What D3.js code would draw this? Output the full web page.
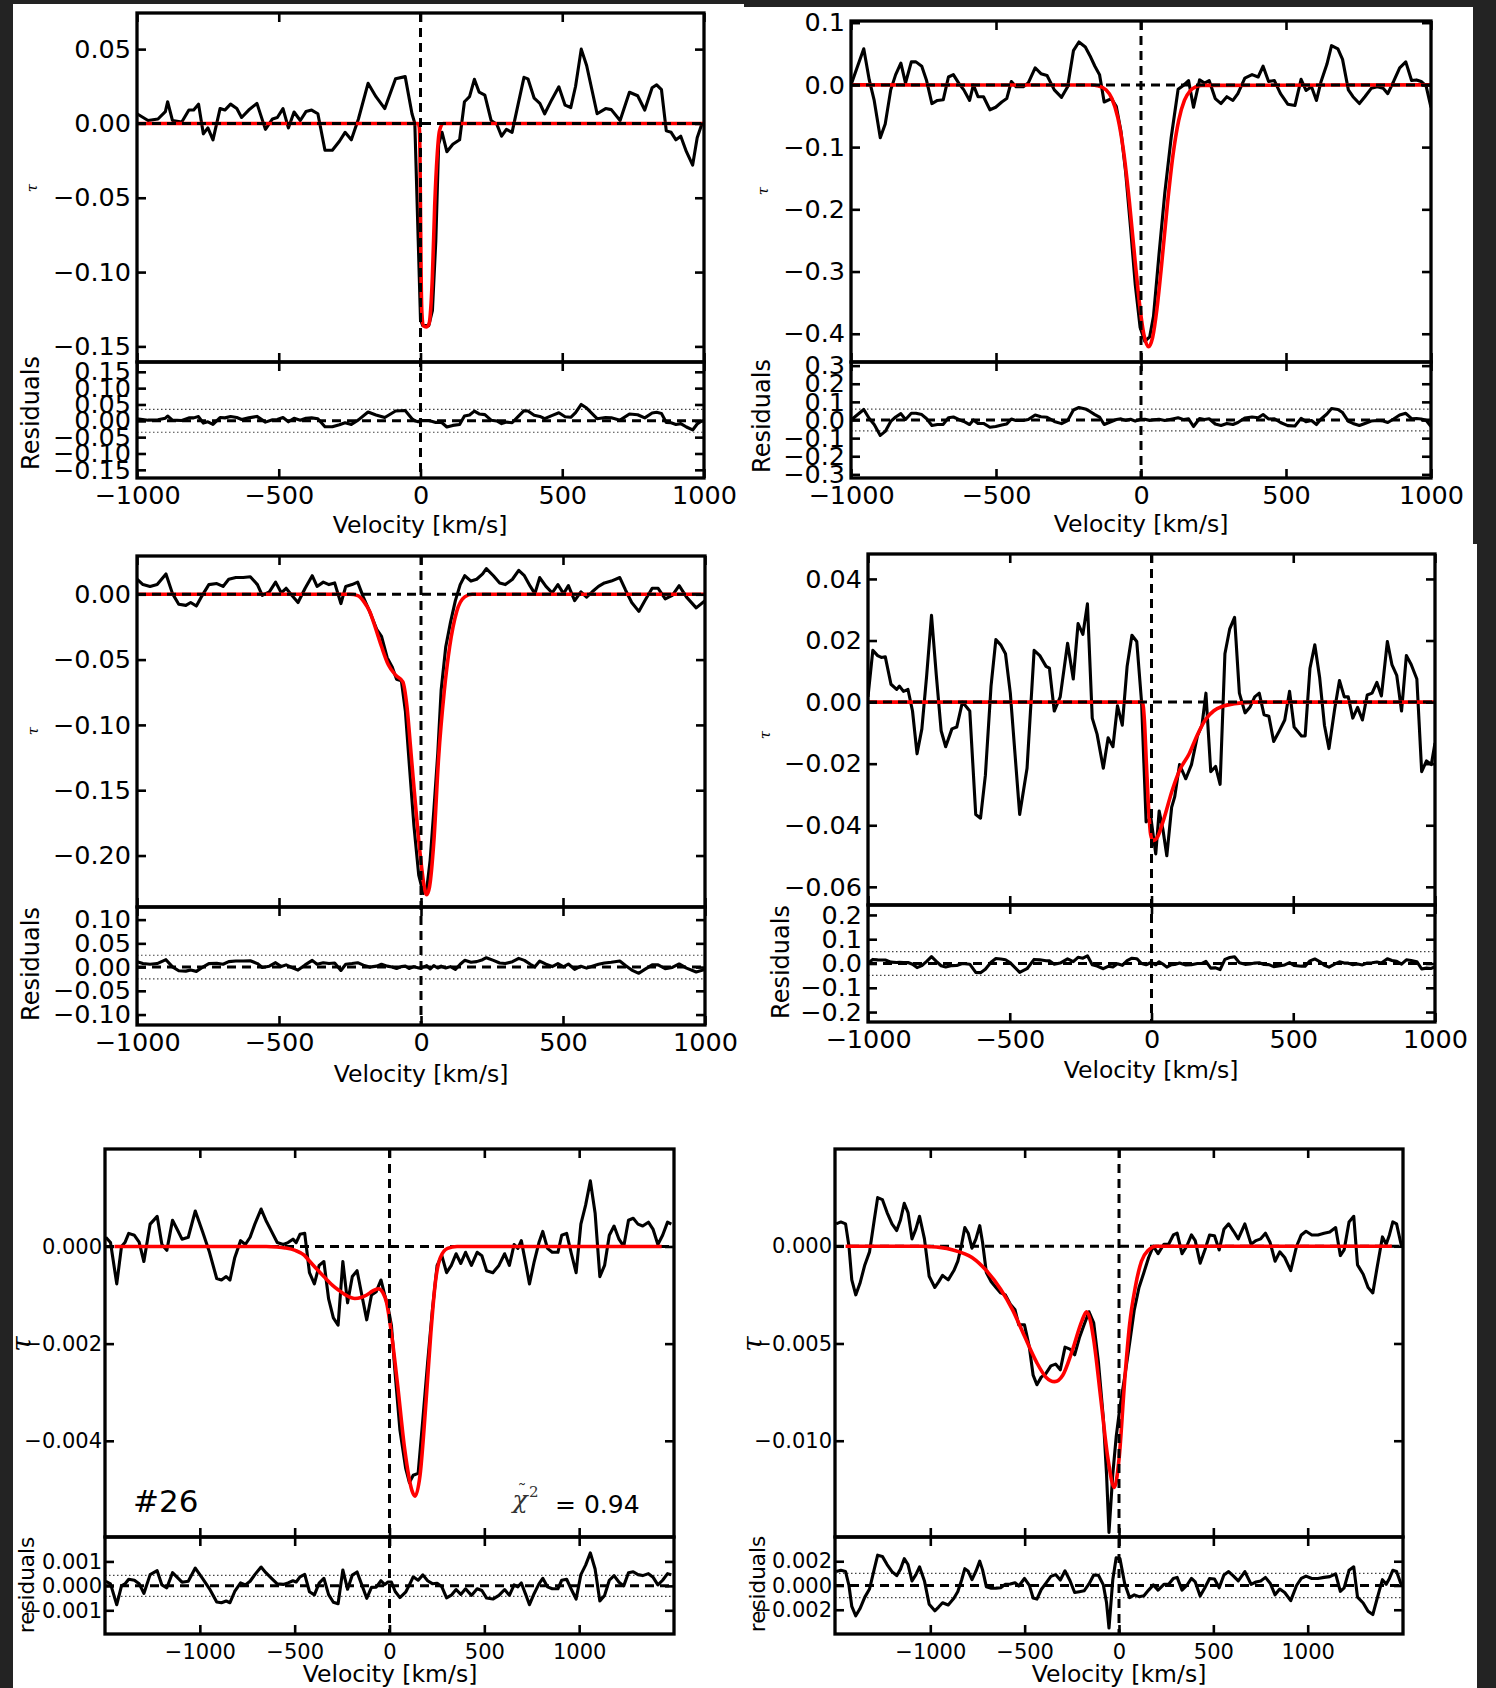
<!DOCTYPE html>
<html>
<head>
<meta charset="utf-8">
<script src="https://cdn.jsdelivr.net/npm/d3@7"></script>
<style>
  html, body { margin: 0; padding: 0; background: #232323; }
  svg { display: block; }
</style>
</head>
<body>
<div id="chart"></div>
<script>
// ---- panel 1 (top left) ----
const p1Vel = [-1000,-961,-926,-900,-892,-875,-842,-817,-800,-783,
  -766,-750,-732,-707,-690,-670,-648,-631,-606,-577,
  -547,-522,-505,-485,-466,-446,-424,-404,-384,-362,
  -337,-311,-286,-266,-244,-219,-185,-157,-126,-88,
  -54,-30,-20,-8,0,8,29,42,54,64,
  76,93,114,138,155,173,190,207,227,249,
  269,286,303,323,345,365,379,401,421,438,
  463,488,510,530,547,567,586,623,653,673,
  704,737,766,791,817,833,850,867,884,901,
  918,938,960,976,993,1000];
const p1Tau = [0.0065,0.002,0.003,0.008,0.0146,0.002,0.001,0.009,0.009,0.013,
  -0.007,-0.003,-0.011,0.010,0.009,0.013,0.010,0.004,0.009,0.0135,
  -0.004,0.003,0.004,0.010,-0.003,0.0077,0.002,0.008,0.009,0.0065,
  -0.018,-0.018,-0.012,-0.006,-0.011,0.003,0.027,0.018,0.010,0.030,
  0.0315,0.0065,0.0,-0.079,-0.132,-0.136,-0.136,-0.126,-0.079,-0.014,
  -0.006,-0.019,-0.014,-0.011,0.0146,0.018,0.0297,0.021,0.019,0.002,
  -0.0005,-0.0086,-0.004,-0.006,0.0135,0.031,0.030,0.017,0.0135,0.0065,
  0.016,0.0246,0.0123,0.0107,0.025,0.050,0.039,0.0065,0.010,0.0093,
  0.002,0.021,0.0186,0.009,0.024,0.026,0.0227,-0.005,-0.006,-0.011,
  -0.0086,-0.019,-0.028,-0.0097,0.0,0.0];
const p1Res = [0.0065,0.002,0.003,0.008,0.0146,0.002,0.001,0.009,0.009,0.013,
  -0.007,-0.003,-0.011,0.010,0.009,0.013,0.010,0.004,0.009,0.0135,
  -0.004,0.003,0.004,0.010,-0.003,0.0077,0.002,0.008,0.009,0.0065,
  -0.018,-0.018,-0.012,-0.006,-0.011,0.003,0.027,0.018,0.010,0.030,
  0.0315,0.0065,0.0,-0.003,0.002,0.001,0.001,-0.002,-0.005,-0.004,
  -0.006,-0.019,-0.014,-0.011,0.0146,0.018,0.0297,0.021,0.019,0.002,
  -0.0005,-0.0086,-0.004,-0.006,0.0135,0.031,0.030,0.017,0.0135,0.0065,
  0.016,0.0246,0.0123,0.0107,0.025,0.050,0.039,0.0065,0.010,0.0093,
  0.002,0.021,0.0186,0.009,0.024,0.026,0.0227,-0.005,-0.006,-0.011,
  -0.0086,-0.019,-0.028,-0.0097,0.0,0.0];
const p1FitVel = [-1000,-8,-4,-2,0,2,5,10,20,30,36,42,50,59,67,80,1000];
const p1FitTau = [0,0,-0.003,-0.02,-0.06,-0.1,-0.128,-0.136,-0.137,-0.135,-0.125,-0.103,-0.056,-0.021,-0.005,0,0];

// ---- panel 2 (top right) ----
const p2Vel = [-1000,-981,-956,-937,-920,-899,-882,-863,-846,-828,
  -812,-792,-776,-756,-740,-721,-702,-682,-664,-647,
  -627,-611,-591,-578,-562,-543,-521,-501,-480,-463,
  -447,-431,-406,-389,-365,-345,-324,-299,-274,-253,
  -233,-214,-192,-176,-159,-143,-127,-102,-85,-69,
  -53,-36,-20,-3,13,30,43,62,82,104,
  128,148,164,181,202,219,235,256,276,296,
  317,334,358,383,404,421,440,460,481,506,
  531,552,569,588,605,621,641,657,679,695,
  715,731,753,772,794,815,835,851,871,892,
  913,933,950,966,983,1000];
const p2Tau = [0.0,0.025,0.058,0.008,-0.025,-0.085,-0.063,-0.008,0.0165,0.035,
  0.003,0.037,0.037,0.030,0.008,-0.030,-0.025,-0.024,0.0127,0.0165,
  0.0017,-0.008,-0.025,0.0,-0.019,-0.019,-0.040,-0.036,-0.0275,-0.022,
  0.0055,-0.003,-0.003,0.003,0.0275,0.018,0.015,-0.008,-0.020,-0.003,
  0.055,0.069,0.061,0.047,0.030,0.0165,-0.0275,-0.022,-0.035,-0.075,
  -0.14,-0.23,-0.32,-0.39,-0.412,-0.405,-0.372,-0.273,-0.174,-0.085,
  -0.007,0.0,0.007,-0.036,0.008,0.003,0.007,-0.022,-0.030,-0.019,
  -0.025,-0.014,0.011,0.0165,0.0127,0.030,0.0055,0.007,-0.014,-0.031,
  -0.033,0.009,-0.009,-0.003,-0.025,0.0055,0.033,0.063,0.058,0.041,
  -0.008,-0.019,-0.030,-0.019,-0.0055,-0.003,-0.0055,-0.014,0.0055,0.0275,
  0.037,0.007,0.008,0.0055,-0.0017,-0.036];
const p2Res = [0.0,0.025,0.058,0.008,-0.025,-0.085,-0.063,-0.008,0.0165,0.035,
  0.003,0.037,0.037,0.030,0.008,-0.030,-0.025,-0.024,0.0127,0.0165,
  0.0017,-0.008,-0.025,0.0,-0.019,-0.019,-0.040,-0.036,-0.0275,-0.022,
  0.0055,-0.003,-0.003,0.003,0.0275,0.018,0.015,-0.008,-0.020,-0.003,
  0.055,0.069,0.061,0.047,0.030,0.0165,-0.025,-0.008,0.003,0.006,
  -0.002,0.004,-0.006,0.003,0.004,-0.002,0.001,0.004,-0.003,0.004,
  0.012,0.002,0.007,-0.036,0.008,0.003,0.007,-0.022,-0.030,-0.019,
  -0.025,-0.014,0.011,0.0165,0.0127,0.030,0.0055,0.007,-0.014,-0.031,
  -0.033,0.009,-0.009,-0.003,-0.025,0.0055,0.033,0.063,0.058,0.041,
  -0.008,-0.019,-0.030,-0.019,-0.0055,-0.003,-0.0055,-0.014,0.0055,0.0275,
  0.037,0.007,0.008,0.0055,-0.0017,-0.036];
const p2FitVel = [-1000,-170,-150,-120,-100,-80,-60,-40,-20,0,10,26,40,55,70,90,110,130,150,170,190,210,1000];
const p2FitTau = [0,-0.0002,-0.0014,-0.0082,-0.0223,-0.0527,-0.107,-0.188,-0.285,-0.3715,-0.4015,-0.421,-0.406,-0.360,-0.294,-0.197,-0.114,-0.057,-0.0245,-0.0091,-0.0029,-0.0008,0];

// ---- panel 3 (middle left) ----
const p3Vel = [-1000,-979,-954,-929,-898,-875,-853,-828,-811,-791,
  -774,-747,-719,-697,-677,-652,-626,-601,-576,-559,
  -534,-512,-492,-475,-455,-433,-408,-383,-366,-344,
  -324,-304,-282,-265,-243,-223,-203,-181,-156,-139,
  -119,-102,-86,-69,-55,-42,-25,-8,8,20,
  32,45,59,71,87,104,121,138,154,176,
  196,217,230,255,277,297,322,344,364,385,
  401,418,440,462,482,502,519,541,563,583,
  603,625,646,670,700,720,742,767,788,814,
  835,860,885,909,935,969,1000];
const p3Tau = [0.0115,0.0074,0.006,0.0074,0.0156,0.0005,-0.0076,-0.0085,-0.0063,-0.009,
  -0.0022,0.0074,0.0082,0.006,0.0115,0.0128,0.0128,0.0134,0.0074,-0.0008,
  0.0019,0.0093,0.0011,0.0046,-0.0008,-0.0063,0.0046,0.0142,0.006,0.0093,
  0.0074,0.0087,-0.0071,0.006,0.0074,0.0093,-0.0022,-0.0131,-0.0268,-0.0322,
  -0.0486,-0.0554,-0.065,-0.0663,-0.0895,-0.128,-0.177,-0.215,-0.229,-0.226,
  -0.204,-0.166,-0.122,-0.0732,-0.0404,-0.0213,-0.0049,0.0074,0.0142,0.0101,
  0.0115,0.0156,0.0197,0.0142,0.0087,0.0074,0.0115,0.0183,0.0142,0.006,
  0.0005,0.0128,0.006,0.0011,0.0074,0.0005,0.0066,-0.0049,0.0019,-0.0022,
  0.0019,0.006,0.0087,0.0101,0.0128,0.0033,-0.0063,-0.0131,-0.0049,0.0046,
  0.0046,-0.0035,-0.0008,0.0066,-0.0022,-0.0104,-0.0049];
const p3Res = [0.0115,0.0074,0.006,0.0074,0.0156,0.0005,-0.0076,-0.0085,-0.0063,-0.009,
  -0.0022,0.0074,0.0082,0.006,0.0115,0.0128,0.0128,0.0134,0.0074,-0.0008,
  0.0019,0.0093,0.0011,0.0046,-0.0008,-0.0063,0.0046,0.0142,0.006,0.0093,
  0.0074,0.0087,-0.0071,0.006,0.0074,0.0093,0.004,0.0,0.002,0.006,
  0.002,0.0,-0.003,0.001,0.002,-0.003,0.001,-0.002,0.0,0.003,
  -0.004,0.003,-0.002,0.002,-0.002,0.001,-0.005,0.006,0.0142,0.0101,
  0.0115,0.0156,0.0197,0.0142,0.0087,0.0074,0.0115,0.0183,0.0142,0.006,
  0.0005,0.0128,0.006,0.0011,0.0074,0.0005,0.0066,-0.0049,0.0019,-0.0022,
  0.0019,0.006,0.0087,0.0101,0.0128,0.0033,-0.0063,-0.0131,-0.0049,0.0046,
  0.0046,-0.0035,-0.0008,0.0066,-0.0022,-0.0104,-0.0049];
const p3FitVel = [-1000,-250,-223,-200,-181,-160,-139,-115,-89,-64,-50,-35,-13,0,10,20,30,45,62,82,101,126,154,180,1000];
const p3FitTau = [0,0,-0.001,-0.006,-0.013,-0.026,-0.040,-0.054,-0.062,-0.067,-0.085,-0.122,-0.177,-0.205,-0.222,-0.230,-0.224,-0.190,-0.125,-0.074,-0.040,-0.013,-0.002,0,0];

// ---- panel 4 (middle right) ----
const p4Vel = [-1000,-983,-966,-953,-939,-919,-899,-889,-875,-859,
  -843,-827,-810,-793,-776,-759,-742,-726,-704,-687,
  -667,-641,-620,-603,-586,-566,-549,-532,-515,-498,
  -465,-439,-414,-394,-372,-360,-343,-322,-296,-276,
  -259,-242,-226,-209,-192,-170,-153,-136,-120,-103,
  -86,-69,-52,-35,-19,-2,15,27,40,54,
  71,82,99,121,141,162,178,192,209,226,
  242,259,276,293,310,330,347,364,380,397,
  414,431,448,470,487,503,529,542,559,576,
  593,610,626,646,663,680,694,710,727,744,
  761,778,795,811,832,848,865,882,899,916,
  936,953,970,987,1000];
const p4Tau = [0.0017,0.0168,0.0151,0.0145,0.0147,0.0058,0.0041,0.0052,0.0035,0.0041,
  -0.0029,-0.0168,-0.0087,0.0087,0.0282,0.0087,-0.0093,-0.0145,-0.0087,-0.0081,
  0.0,-0.0029,-0.0365,-0.0377,-0.0238,0.0052,0.0203,0.0186,0.0157,0.0029,
  -0.0365,-0.0215,0.0168,0.0151,0.0116,0.011,-0.0029,0.0017,0.0191,0.0075,
  0.0255,0.022,0.0319,-0.0052,-0.0104,-0.0215,-0.0116,-0.0145,-0.0012,-0.0075,
  0.0116,0.0217,0.0197,0.0,-0.0389,-0.0377,-0.0493,-0.0354,-0.0412,-0.0499,
  -0.0342,-0.0307,-0.0203,-0.0249,-0.0203,-0.011,-0.0075,0.0029,-0.0226,-0.0209,
  -0.0267,0.0157,0.0238,0.0275,0.0029,-0.0035,-0.0017,0.0017,0.0029,-0.0041,
  -0.0046,-0.0128,-0.0099,-0.0058,0.0035,-0.0081,-0.011,-0.011,0.011,0.0186,
  0.0081,-0.0075,-0.0151,-0.0023,0.007,0.0017,0.0017,-0.0052,-0.0017,-0.0058,
  0.0023,0.0029,0.0064,0.002,0.0197,0.0122,0.0087,-0.0029,0.0151,0.0122,
  0.0075,-0.0226,-0.0191,-0.0203,-0.0133];
const p4Res = [0.0017,0.0168,0.0151,0.0145,0.0147,0.0058,0.0041,0.0052,0.0035,0.0041,
  -0.0029,-0.0168,-0.0087,0.0087,0.0282,0.0087,-0.0093,-0.0145,-0.0087,-0.0081,
  0.0,-0.0029,-0.0365,-0.0377,-0.0238,0.0052,0.0203,0.0186,0.0157,0.0029,
  -0.0365,-0.0215,0.0168,0.0151,0.0116,0.011,-0.0029,0.0017,0.0191,0.0075,
  0.0255,0.022,0.0319,-0.0052,-0.0104,-0.0215,-0.0116,-0.0145,-0.0012,-0.0075,
  0.0116,0.0217,0.0197,0.0,-0.005,0.004,-0.005,0.007,-0.002,-0.015,
  -0.005,-0.004,0.002,-0.006,-0.005,0.0,0.0005,0.0084,-0.019,-0.018,
  -0.025,0.017,0.0246,0.028,0.0029,-0.0035,-0.0017,0.0017,0.0029,-0.0041,
  -0.0046,-0.0128,-0.0099,-0.0058,0.0035,-0.0081,-0.011,-0.011,0.011,0.0186,
  0.0081,-0.0075,-0.0151,-0.0023,0.007,0.0017,0.0017,-0.0052,-0.0017,-0.0058,
  0.0023,0.0029,0.0064,0.002,0.0197,0.0122,0.0087,-0.0029,0.0151,0.0122,
  0.0075,-0.0226,-0.0191,-0.0203,-0.0133];
const p4FitVel = [-1000,-32,-25,-18,-10,-3,5,20,40,74,100,133,160,192,220,250,293,360,1000];
const p4FitTau = [0,0,-0.006,-0.02,-0.035,-0.043,-0.045,-0.044,-0.039,-0.0284,-0.022,-0.0168,-0.011,-0.0055,-0.0028,-0.0014,-0.0005,0,0];

// ---- panel 5 (#26, bottom left) ----
const p5Vel = [-1496,-1471,-1438,-1413,-1395,-1375,-1345,-1320,-1295,-1262,
  -1225,-1200,-1174,-1144,-1119,-1094,-1061,-1024,-986,-949,
  -911,-886,-861,-841,-816,-785,-760,-735,-710,-677,
  -652,-622,-592,-560,-535,-509,-492,-472,-447,-422,
  -396,-371,-346,-321,-296,-271,-246,-221,-196,-171,
  -146,-120,-95,-70,-45,-25,-8,10,30,55,
  85,105,125,151,176,201,226,251,276,301,
  326,351,376,401,432,462,487,512,545,577,
  607,632,657,677,695,720,738,763,788,808,
  833,858,888,908,934,959,984,1009,1034,1059,
  1084,1109,1134,1159,1184,1210,1235,1260,1285,1310,
  1335,1365,1390,1415,1440,1466,1486];
const p5Tau = [0.00019,0.00008,-0.00077,0,0.00008,0.00027,0.00023,0.00009,-0.00031,0.00046,
  0.00062,0.00004,-0.00008,0.00054,0.00035,0.00015,0.00019,0.00073,0.00031,-0.00012,
  -0.00066,-0.00069,-0.00062,-0.00069,-0.00023,0.00012,0.00004,0.00019,0.00046,0.00077,
  0.00054,0.00031,0.00008,0.00004,0.00008,0.00015,0.00008,0.00025,0.00027,-0.00054,
  -0.00077,-0.00039,-0.00031,-0.00108,-0.00147,-0.00162,-0.00031,-0.00116,-0.00062,-0.0005,
  -0.001,-0.00151,-0.001,-0.00093,-0.00069,-0.001,-0.00124,-0.00162,-0.00263,-0.00378,
  -0.00456,-0.00486,-0.00471,-0.00467,-0.00355,-0.00239,-0.00131,-0.00039,-0.00019,-0.00054,
  -0.00039,-0.00015,-0.00035,-0.00012,-0.00039,-0.00012,-0.00019,-0.0005,-0.00054,-0.00039,
  -0.00015,-0.00039,0.00004,-0.00004,0.00012,-0.00039,-0.00077,-0.00031,0.00008,0.00031,
  -0.00004,-0.00012,-0.00012,0.00023,0.00027,-0.00015,-0.00054,0.00046,0.00085,0.00135,
  0.00069,-0.00062,-0.00039,0.00023,0.00042,0.00015,0,0.00054,0.00058,0.00046,
  0.00042,0.0005,0.00035,0.00004,0.00023,0.0005,0.00046];
const p5Res = [0.00019,0.00008,-0.00077,0,0.00008,0.00027,0.00023,0.00009,-0.00031,0.00046,
  0.00062,0.00004,-0.00008,0.00054,0.00035,0.00015,0.00019,0.00073,0.00031,-0.00012,
  -0.00066,-0.00069,-0.00062,-0.00069,-0.00023,0.00012,0.00004,0.00019,0.00046,0.00077,
  0.00054,0.00031,0.00008,0.00006,0.00012,0.00021,0.00016,0.00037,0.00047,-0.00024,
  -0.00037,0.00011,0.00031,-0.00036,-0.00067,-0.00073,0.00065,-0.00014,0.00044,0.00057,
  0.00004,-0.00051,-0.00006,-0.00005,0.00021,0.00005,0.00016,0.00016,-0.00023,-0.00048,
  -0.00026,0.00004,0.00037,0.00023,0.00045,0.00021,0.00009,0.00011,-0.00004,-0.00049,
  -0.00038,-0.00015,-0.00035,-0.00012,-0.00039,-0.00012,-0.00019,-0.0005,-0.00054,-0.00039,
  -0.00015,-0.00039,0.00004,-0.00004,0.00012,-0.00039,-0.00077,-0.00031,0.00008,0.00031,
  -0.00004,-0.00012,-0.00012,0.00023,0.00027,-0.00015,-0.00054,0.00046,0.00085,0.00135,
  0.00069,-0.00062,-0.00039,0.00023,0.00042,0.00015,0,0.00054,0.00058,0.00046,
  0.00042,0.0005,0.00035,0.00004,0.00023,0.0005,0.00046];
const p5FitVel = [-1450,-650,-597,-550,-497,-450,-422,-380,-346,-300,-271,-230,-183,-150,-120,-90,-58,-35,-15,10,43,80,118,135,161,193,218,243,268,306,356,1435];
const p5FitTau = [0,0,-0.00001,-0.00003,-0.00008,-0.00018,-0.0003,-0.00048,-0.00062,-0.0008,-0.00089,-0.001,-0.00107,-0.00105,-0.001,-0.00092,-0.00087,-0.00095,-0.00116,-0.00178,-0.00286,-0.00417,-0.00502,-0.00514,-0.00471,-0.00317,-0.00178,-0.0007,-0.00023,-0.00004,0,0];

// ---- panel 6 (bottom right) ----
const p6Vel = [-1499,-1474,-1449,-1431,-1416,-1395,-1373,-1347,-1322,-1297,
  -1279,-1254,-1229,-1203,-1178,-1158,-1138,-1118,-1097,-1077,
  -1057,-1031,-1006,-976,-956,-935,-905,-875,-854,-834,
  -817,-799,-779,-758,-738,-723,-703,-677,-652,-627,
  -602,-576,-551,-531,-501,-475,-455,-435,-412,-387,
  -361,-336,-311,-286,-260,-235,-210,-185,-159,-134,
  -109,-83,-66,-53,-33,-15,5,30,56,81,
  106,132,157,182,207,238,263,288,308,334,
  359,384,404,430,455,480,506,531,556,581,
  607,632,667,700,726,751,776,801,827,852,
  878,910,941,966,991,1022,1054,1087,1117,1148,
  1173,1193,1219,1244,1264,1294,1320,1345,1370,1396,
  1416,1433,1451,1471,1497];
const p6Tau = [0.00115,0.00125,0.00115,0,-0.00173,-0.0025,-0.00192,-0.00096,-0.00029,0.00135,
  0.0025,0.0024,0.00173,0.00115,0.00081,0.00135,0.00221,0.00173,0.00038,0.00087,
  0.00154,0.00038,-0.00154,-0.00212,-0.00183,-0.0015,-0.00173,-0.00125,-0.00077,0.0001,
  0.00096,0.00067,-0.0001,0.00038,0.00106,0.00019,-0.00135,-0.00183,-0.00212,-0.0024,
  -0.0025,-0.00298,-0.00327,-0.00404,-0.00404,-0.00519,-0.00663,-0.00712,-0.00673,-0.00654,
  -0.00615,-0.00606,-0.00635,-0.00519,-0.00529,-0.00558,-0.00471,-0.00404,-0.00337,-0.00394,
  -0.00596,-0.00885,-0.01173,-0.01471,-0.01173,-0.00981,-0.00827,-0.00673,-0.005,-0.00327,
  -0.00212,-0.00135,-0.00058,0,-0.00038,0.0001,0.0001,0.00058,0.00067,-0.00038,
  0,0.00058,0.00029,-0.00087,-0.00019,0.00058,0.00054,-0.00019,0.00087,0.00115,
  0.00077,0.00038,0.00115,0.0001,0.00029,0.00038,0.00067,0.00019,-0.00077,-0.00029,
  -0.00058,-0.00125,0,0.00058,0.00077,0.00058,0.00058,0.00067,0.00073,0.00096,
  -0.00048,-0.00019,0.00125,0.00154,-0.00096,-0.00144,-0.00212,-0.0024,-0.00096,0.00048,
  0.0001,0.00058,0.00125,0.00115,0];
const p6Res = [0.00115,0.00125,0.00115,0,-0.00173,-0.0025,-0.00192,-0.00096,-0.00029,0.00135,
  0.0025,0.0024,0.00173,0.00115,0.00081,0.00135,0.00221,0.00173,0.00038,0.00087,
  0.00154,0.00038,-0.00154,-0.00209,-0.00178,-0.00142,-0.00161,-0.00105,-0.0005,0.00045,
  0.00139,0.00117,0.00048,0.00118,0.00201,0.00129,-0.0001,-0.00023,-0.00022,-0.00019,
  0.0001,0.00012,0.00023,-0.00004,0.00058,0.00001,-0.00103,-0.00112,-0.00033,0.00019,
  0.00075,0.0009,0.00045,0.00121,0.00041,-0.00058,-0.00051,-0.00044,0.00013,0.00086,
  0.00084,0.00005,-0.00143,-0.00351,0.00047,0.00229,0.00223,0.00017,-0.001,-0.00077,
  -0.00092,-0.00085,-0.00038,0.00005,-0.00038,0.0001,0.0001,0.00058,0.00067,-0.00038,
  0,0.00058,0.00029,-0.00087,-0.00019,0.00058,0.00054,-0.00019,0.00087,0.00115,
  0.00077,0.00038,0.00115,0.0001,0.00029,0.00038,0.00067,0.00019,-0.00077,-0.00029,
  -0.00058,-0.00125,0,0.00058,0.00077,0.00058,0.00058,0.00067,0.00073,0.00096,
  -0.00048,-0.00019,0.00125,0.00154,-0.00096,-0.00144,-0.00212,-0.0024,-0.00096,0.00048,
  0.0001,0.00058,0.00125,0.00115,0];
const p6FitVel = [-1449,-1050,-1006,-950,-880,-779,-703,-627,-564,-501,-437,-387,-341,-298,-248,-197,-172,-150,-134,-96,-58,-25,0,30,56,86,119,157,195,1446];
const p6FitTau = [0,0,-0.00002,-0.00006,-0.00019,-0.00058,-0.00125,-0.00221,-0.00327,-0.00462,-0.00596,-0.00673,-0.00696,-0.00663,-0.00538,-0.00385,-0.00337,-0.0039,-0.00481,-0.00788,-0.01096,-0.0124,-0.01096,-0.00692,-0.00404,-0.00212,-0.00077,-0.00019,0,0];

// tick values
const velTicks = [-1000, -500, 0, 500, 1000];
const p1Ticks = [0.05, 0, -0.05, -0.10, -0.15];
const p1ResTicks = [0.15, 0.10, 0.05, 0, -0.05, -0.10, -0.15];
const p2Ticks = [0.1, 0, -0.1, -0.2, -0.3, -0.4];
const p2ResTicks = [0.3, 0.2, 0.1, 0, -0.1, -0.2, -0.3];
const p3Ticks = [0, -0.05, -0.10, -0.15, -0.20];
const p3ResTicks = [0.10, 0.05, 0, -0.05, -0.10];
const p4Ticks = [0.04, 0.02, 0, -0.02, -0.04, -0.06];
const p4ResTicks = [0.2, 0.1, 0, -0.1, -0.2];
const p5Ticks = [0, -0.002, -0.004];
const p5ResTicks = [0.001, 0, -0.001];
const p6Ticks = [0, -0.005, -0.010];
const p6ResTicks = [0.002, 0, -0.002];

// layout of each panel (pixels)
const panels = [
  { id: 1, vel: p1Vel, tau: p1Tau, res: p1Res, fitVel: p1FitVel, fitTau: p1FitTau,
    left: 137, right: 704, top: 13, mid: 362, bottom: 478,
    xDom: [-1000, 1000], yDom: [-0.1605, 0.0743], rDom: [-0.175, 0.18], sigma: 0.035,
    yTicks: p1Ticks, rTicks: p1ResTicks, yFmt: ".2f", rFmt: ".2f",
    big: true, xlab: [420, 533], resLab: [31, 413], tauLab: [32, 188] },
  { id: 2, vel: p2Vel, tau: p2Tau, res: p2Res, fitVel: p2FitVel, fitTau: p2FitTau,
    left: 851, right: 1431, top: 21, mid: 362, bottom: 478,
    xDom: [-1000, 1000], yDom: [-0.4454, 0.1027], rDom: [-0.32, 0.32], sigma: 0.06,
    yTicks: p2Ticks, rTicks: p2ResTicks, yFmt: ".1f", rFmt: ".1f",
    big: true, xlab: [1141, 532], resLab: [762, 416], tauLab: [763, 191] },
  { id: 3, vel: p3Vel, tau: p3Tau, res: p3Res, fitVel: p3FitVel, fitTau: p3FitTau,
    left: 137, right: 705, top: 556, mid: 907, bottom: 1025,
    xDom: [-1000, 1000], yDom: [-0.2394, 0.0293], rDom: [-0.122, 0.1266], sigma: 0.025,
    yTicks: p3Ticks, rTicks: p3ResTicks, yFmt: ".2f", rFmt: ".2f",
    big: true, xlab: [421, 1082], resLab: [31, 964], tauLab: [33, 731] },
  { id: 4, vel: p4Vel, tau: p4Tau, res: p4Res, fitVel: p4FitVel, fitTau: p4FitTau,
    left: 868, right: 1435, top: 554, mid: 905, bottom: 1022,
    xDom: [-1000, 1000], yDom: [-0.0659, 0.0481], rDom: [-0.241, 0.241], sigma: 0.0486,
    yTicks: p4Ticks, rTicks: p4ResTicks, yFmt: ".2f", rFmt: ".1f",
    big: true, xlab: [1151, 1078], resLab: [781, 962], tauLab: [765, 735] },
  { id: 5, vel: p5Vel, tau: p5Tau, res: p5Res, fitVel: p5FitVel, fitTau: p5FitTau,
    left: 105, right: 674, top: 1149, mid: 1537, bottom: 1634,
    xDom: [-1500, 1500], yDom: [-0.00598, 0.002006], rDom: [-0.00197, 0.002], sigma: 0.00043,
    yTicks: p5Ticks, rTicks: p5ResTicks, yFmt: ".3f", rFmt: ".3f",
    big: false, xlab: [390, 1682], resLab: [26, 1585], tauLab: [21, 1344] },
  { id: 6, vel: p6Vel, tau: p6Tau, res: p6Res, fitVel: p6FitVel, fitTau: p6FitTau,
    left: 835, right: 1403, top: 1149, mid: 1537, bottom: 1634,
    xDom: [-1505, 1505], yDom: [-0.01495, 0.005], rDom: [-0.004, 0.004], sigma: 0.001,
    yTicks: p6Ticks, rTicks: p6ResTicks, yFmt: ".3f", rFmt: ".3f",
    big: false, xlab: [1119, 1682], resLab: [757, 1584], tauLab: [752, 1344] }
];

const W = 1496, H = 1688;
const svg = d3.select("#chart").append("svg").attr("width", W).attr("height", H);
const defs = svg.append("defs");

// dark frame and white sheet
svg.append("rect").attr("width", W).attr("height", H).attr("fill", "#232323");
svg.append("rect").attr("x", 13).attr("y", 4).attr("width", 731).attr("height", 541).attr("fill", "#fff");
svg.append("rect").attr("x", 744).attr("y", 7).attr("width", 729).attr("height", 538).attr("fill", "#fff");
svg.append("rect").attr("x", 13).attr("y", 544).attr("width", 1464).attr("height", H - 544).attr("fill", "#fff");

const FONT = "DejaVu Sans, sans-serif";

function styleAxis(sel, fs) {
  sel.attr("font-family", null).attr("font-size", null);
  sel.select(".domain").remove();
  sel.selectAll(".tick line").attr("stroke", "#000").attr("stroke-width", 2.6);
  sel.selectAll(".tick text").attr("fill", "#000").attr("font-family", FONT).attr("font-size", fs);
}

function drawPanel(p) {
  const x = d3.scaleLinear().domain(p.xDom).range([p.left, p.right]);
  const y = d3.scaleLinear().domain(p.yDom).range([p.mid, p.top]);
  const yr = d3.scaleLinear().domain(p.rDom).range([p.bottom, p.mid]);
  const w = p.right - p.left;
  const g = svg.append("g");

  defs.append("clipPath").attr("id", "cm" + p.id).append("rect")
    .attr("x", p.left).attr("y", p.top).attr("width", w).attr("height", p.mid - p.top);
  defs.append("clipPath").attr("id", "cr" + p.id).append("rect")
    .attr("x", p.left).attr("y", p.mid).attr("width", w).attr("height", p.bottom - p.mid);

  const main = g.append("g").attr("clip-path", `url(#cm${p.id})`);
  const resid = g.append("g").attr("clip-path", `url(#cr${p.id})`);

  const dataLine = d3.line().x(d => x(d[0])).y(d => y(d[1]));
  const fitLine = d3.line().x(d => x(d[0])).y(d => y(d[1])).curve(d3.curveMonotoneX);
  const resLine = d3.line().x(d => x(d[0])).y(d => yr(d[1]));

  const dash = "9,6";
  function zeroLine() {
    main.append("line")
      .attr("x1", p.left).attr("x2", p.right).attr("y1", y(0)).attr("y2", y(0))
      .attr("stroke", "#000").attr("stroke-width", 3).attr("stroke-dasharray", dash);
  }
  function drawData() {
    main.append("path").datum(d3.zip(p.vel, p.tau))
      .attr("d", dataLine).attr("fill", "none")
      .attr("stroke", "#000").attr("stroke-width", 3.1).attr("stroke-linejoin", "round");
  }
  function drawFit() {
    main.append("path").datum(d3.zip(p.fitVel, p.fitTau))
      .attr("d", fitLine).attr("fill", "none")
      .attr("stroke", "#ff0000").attr("stroke-width", 3.6).attr("stroke-linejoin", "round");
  }

  if (p.big) { drawData(); drawFit(); zeroLine(); }
  else { zeroLine(); drawData(); drawFit(); }

  // residual panel
  [p.sigma, -p.sigma].forEach(s => {
    resid.append("line")
      .attr("x1", p.left).attr("x2", p.right).attr("y1", yr(s)).attr("y2", yr(s))
      .attr("stroke", "#444").attr("stroke-width", 1.2).attr("stroke-dasharray", "1.5,2.5");
  });
  resid.append("line")
    .attr("x1", p.left).attr("x2", p.right).attr("y1", yr(0)).attr("y2", yr(0))
    .attr("stroke", "#000").attr("stroke-width", 3).attr("stroke-dasharray", dash);
  resid.append("path").datum(d3.zip(p.vel, p.res))
    .attr("d", resLine).attr("fill", "none")
    .attr("stroke", "#000").attr("stroke-width", 3.1).attr("stroke-linejoin", "round");

  // vertical line at v = 0 through both panels
  g.append("line")
    .attr("x1", x(0)).attr("x2", x(0)).attr("y1", p.top).attr("y2", p.bottom)
    .attr("stroke", "#000").attr("stroke-width", 3).attr("stroke-dasharray", dash);

  // ticks
  const tl = 9;
  const fs = p.big ? 25.5 : 21;
  const pad = p.big ? 6 : 3;
  const xpad = p.big ? 8 : 10;

  g.append("g").attr("transform", `translate(${p.left},0)`)
    .call(d3.axisLeft(y).tickValues(p.yTicks).tickSize(-tl).tickPadding(pad).tickFormat(d3.format(p.yFmt)))
    .call(s => styleAxis(s, fs));
  g.append("g").attr("transform", `translate(${p.right},0)`)
    .call(d3.axisRight(y).tickValues(p.yTicks).tickSize(-tl).tickFormat(""))
    .call(s => styleAxis(s, fs));
  g.append("g").attr("transform", `translate(${p.left},0)`)
    .call(d3.axisLeft(yr).tickValues(p.rTicks).tickSize(-tl).tickPadding(pad).tickFormat(d3.format(p.rFmt)))
    .call(s => styleAxis(s, fs));
  g.append("g").attr("transform", `translate(${p.right},0)`)
    .call(d3.axisRight(yr).tickValues(p.rTicks).tickSize(-tl).tickFormat(""))
    .call(s => styleAxis(s, fs));

  // ticks along the top of the main panel and both sides of the shared edge
  g.append("g").attr("transform", `translate(0,${p.top})`)
    .call(d3.axisTop(x).tickValues(velTicks).tickSize(-tl).tickFormat(""))
    .call(s => styleAxis(s, fs));
  g.append("g").attr("transform", `translate(0,${p.mid})`)
    .call(d3.axisBottom(x).tickValues(velTicks).tickSize(-tl).tickFormat(""))
    .call(s => styleAxis(s, fs));
  g.append("g").attr("transform", `translate(0,${p.mid})`)
    .call(d3.axisBottom(x).tickValues(velTicks).tickSize(tl).tickFormat(""))
    .call(s => styleAxis(s, fs));
  g.append("g").attr("transform", `translate(0,${p.bottom})`)
    .call(d3.axisBottom(x).tickValues(velTicks).tickSize(-tl).tickPadding(xpad).tickFormat(d3.format("d")))
    .call(s => styleAxis(s, fs));

  // frames
  g.append("rect").attr("x", p.left).attr("y", p.top).attr("width", w).attr("height", p.mid - p.top)
    .attr("fill", "none").attr("stroke", "#000").attr("stroke-width", 3.3);
  g.append("rect").attr("x", p.left).attr("y", p.mid).attr("width", w).attr("height", p.bottom - p.mid)
    .attr("fill", "none").attr("stroke", "#000").attr("stroke-width", 3.3);

  // labels
  g.append("text").attr("x", p.xlab[0]).attr("y", p.xlab[1])
    .attr("text-anchor", "middle").attr("font-family", FONT).attr("font-size", 23.5)
    .text("Velocity [km/s]");
  g.append("text")
    .attr("transform", `translate(${p.resLab[0]},${p.resLab[1]}) rotate(-90)`)
    .attr("dy", "0.35em").attr("text-anchor", "middle")
    .attr("font-family", FONT).attr("font-size", p.big ? 24 : 21.5)
    .text(p.big ? "Residuals" : "residuals");
  g.append("text")
    .attr("transform", `translate(${p.tauLab[0]},${p.tauLab[1]}) rotate(-90)`)
    .attr("dy", "0.35em").attr("text-anchor", "middle")
    .attr("font-family", "DejaVu Serif, serif").attr("font-style", "italic")
    .attr("font-size", p.big ? 15 : 28)
    .text("τ");
}

panels.forEach(drawPanel);

// annotations on panel 5
svg.append("text").attr("x", 133).attr("y", 1512)
  .attr("font-family", FONT).attr("font-size", 31).text("#26");
svg.append("text").attr("x", 520).attr("y", 1508).attr("text-anchor", "middle")
  .attr("font-family", "DejaVu Serif, serif").attr("font-style", "italic")
  .attr("font-size", 25).attr("fill", "#333").text("χ");
svg.append("text").attr("x", 522).attr("y", 1497).attr("text-anchor", "middle")
  .attr("font-family", "DejaVu Serif, serif").attr("font-size", 18).attr("fill", "#333").text("˜");
svg.append("text").attr("x", 529).attr("y", 1497)
  .attr("font-family", "DejaVu Serif, serif").attr("font-size", 15).attr("fill", "#333").text("2");
svg.append("text").attr("x", 555).attr("y", 1513)
  .attr("font-family", FONT).attr("font-size", 25).text("= 0.94");
</script>
</body>
</html>
